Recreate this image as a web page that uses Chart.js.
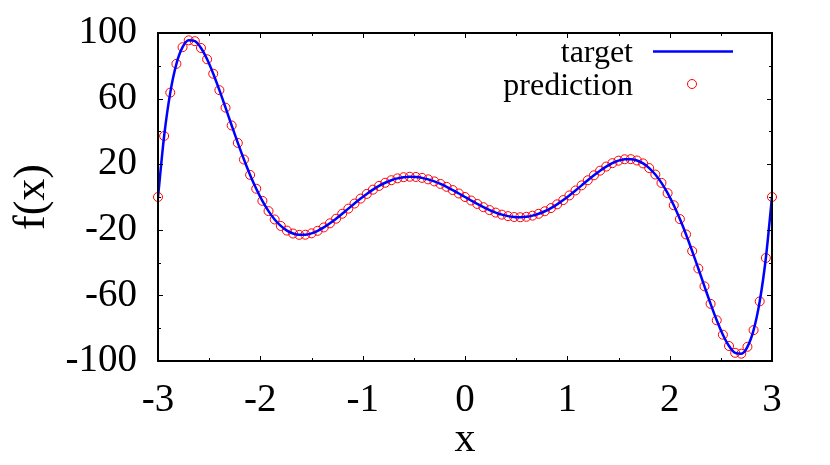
<!DOCTYPE html>
<html lang="en">
<head>
    <meta charset="UTF-8">
    <title>target vs prediction</title>
    <script src="https://cdn.jsdelivr.net/npm/chart.js"></script>
    <style>
        body {
            margin: 0;
            background: #fff;
        }
        #wrap {
            width: 830px;
            height: 465px;
        }
    </style>
</head>
<body>
<div id="wrap">
    <canvas id="myChart" width="830" height="465"></canvas>
</div>
<script>
    // sample positions (x) and values
    const xs = [-3, -2.94, -2.88, -2.82, -2.76, -2.7, -2.64, -2.58, -2.52, -2.46,
        -2.4, -2.34, -2.28, -2.22, -2.16, -2.1, -2.04, -1.98, -1.92, -1.86,
        -1.8, -1.74, -1.68, -1.62, -1.56, -1.5, -1.44, -1.38, -1.32, -1.26,
        -1.2, -1.14, -1.08, -1.02, -0.96, -0.9, -0.84, -0.78, -0.72, -0.66,
        -0.6, -0.54, -0.48, -0.42, -0.36, -0.3, -0.24, -0.18, -0.12, -0.06,
        0,
        0.06, 0.12, 0.18, 0.24, 0.3, 0.36, 0.42, 0.48, 0.54, 0.6,
        0.66, 0.72, 0.78, 0.84, 0.9, 0.96, 1.02, 1.08, 1.14, 1.2,
        1.26, 1.32, 1.38, 1.44, 1.5, 1.56, 1.62, 1.68, 1.74, 1.8,
        1.86, 1.92, 1.98, 2.04, 2.1, 2.16, 2.22, 2.28, 2.34, 2.4,
        2.46, 2.52, 2.58, 2.64, 2.7, 2.76, 2.82, 2.88, 2.94, 3];

    const target = [0, 37.19, 63.66, 81.18, 91.34, 95.54, 95.02, 90.85, 83.97, 75.17,
        65.14, 54.47, 43.61, 32.97, 22.84, 13.48, 5.04, -2.34, -8.59, -13.70,
        -17.65, -20.49, -22.27, -23.08, -23.00, -22.15, -20.63, -18.56, -16.06, -13.24,
        -10.22, -7.10, -3.99, -0.97, 1.87, 4.47, 6.76, 8.69, 10.24, 11.37,
        12.08, 12.35, 12.21, 11.67, 10.76, 9.51, 7.97, 6.20, 4.24, 2.15,
        0,
        -2.15, -4.24, -6.20, -7.97, -9.51, -10.76, -11.67, -12.21, -12.35, -12.08,
        -11.37, -10.24, -8.69, -6.76, -4.47, -1.87, 0.97, 3.99, 7.10, 10.22,
        13.24, 16.06, 18.56, 20.63, 22.15, 23.00, 23.08, 22.27, 20.49, 17.65,
        13.70, 8.59, 2.34, -5.04, -13.48, -22.84, -32.97, -43.61, -54.47, -65.14,
        -75.17, -83.97, -90.85, -95.02, -95.54, -91.34, -81.18, -63.66, -37.19, 0];

    // prediction sits on the target curve everywhere in the picture
    const prediction = target;

    const seriesNames = ['target', 'prediction'];

    const xTicks = [-3, -2, -1, 0, 1, 2, 3];
    const xMinor = [-2.5, -1.5, -0.5, 0.5, 1.5, 2.5];
    const yTicks = [-100, -60, -20, 20, 60, 100];
    const yMinor = [-80, -40, 0, 40, 80];

    const serif = "'Liberation Serif', 'DejaVu Serif', serif";

    // frame with inward ticks on all four sides, like gnuplot
    const framePlugin = {
        id: 'frame',
        afterDraw(chart) {
            const ctx = chart.ctx;
            const a = chart.chartArea;
            const sx = chart.scales.x;
            const sy = chart.scales.y;
            ctx.save();
            ctx.strokeStyle = '#000';
            ctx.lineWidth = 1;
            function vTick(v, len) {
                const px = Math.round(sx.getPixelForValue(v)) + 0.5;
                ctx.beginPath();
                ctx.moveTo(px, a.bottom); ctx.lineTo(px, a.bottom - len);
                ctx.moveTo(px, a.top); ctx.lineTo(px, a.top + len);
                ctx.stroke();
            }
            function hTick(v, len) {
                const py = Math.round(sy.getPixelForValue(v)) + 0.5;
                ctx.beginPath();
                ctx.moveTo(a.left, py); ctx.lineTo(a.left + len, py);
                ctx.moveTo(a.right, py); ctx.lineTo(a.right - len, py);
                ctx.stroke();
            }
            xTicks.forEach(v => vTick(v, 5));
            xMinor.forEach(v => vTick(v, 3));
            yTicks.forEach(v => hTick(v, 5));
            yMinor.forEach(v => hTick(v, 3));
            ctx.lineWidth = 2;
            ctx.strokeRect(a.left, a.top, a.right - a.left, a.bottom - a.top);

            // key, top right inside the frame
            ctx.font = '32px ' + serif;
            ctx.fillStyle = '#000';
            ctx.textAlign = 'right';
            ctx.textBaseline = 'alphabetic';
            ctx.fillText(seriesNames[0], 633, 62);
            ctx.fillText(seriesNames[1], 633, 95);
            ctx.strokeStyle = '#0000ff';
            ctx.lineWidth = 2.5;
            ctx.beginPath();
            ctx.moveTo(653, 51.5); ctx.lineTo(733, 51.5);
            ctx.stroke();
            ctx.strokeStyle = '#ff0000';
            ctx.lineWidth = 1;
            ctx.beginPath();
            ctx.arc(692, 84, 4.5, 0, Math.PI * 2);
            ctx.stroke();
            ctx.restore();
        }
    };

    const ctx = document.getElementById('myChart').getContext('2d');
    const chart = new Chart(ctx, {
        type: 'scatter',
        data: {
            datasets: [
                {
                    label: seriesNames[0],
                    type: 'line',
                    data: xs.map((x, i) => ({x: x, y: target[i]})),
                    borderColor: '#0000ff',
                    borderWidth: 2.5,
                    pointRadius: 0,
                    cubicInterpolationMode: 'monotone',
                    fill: false,
                    order: 0
                },
                {
                    label: seriesNames[1],
                    data: xs.map((x, i) => ({x: x, y: prediction[i]})),
                    borderColor: '#ff0000',
                    backgroundColor: 'rgba(0,0,0,0)',
                    borderWidth: 1,
                    pointRadius: 4.5,
                    pointStyle: 'circle',
                    clip: false,
                    order: 1
                }
            ]
        },
        options: {
            responsive: false,
            animation: false,
            layout: {
                padding: {left: 0, right: 58, top: 33, bottom: 0}
            },
            plugins: {
                legend: {display: false},
                tooltip: {enabled: false}
            },
            scales: {
                x: {
                    type: 'linear',
                    min: -3,
                    max: 3,
                    grid: {display: false},
                    border: {display: false},
                    afterBuildTicks: s => { s.ticks = xTicks.map(v => ({value: v})); },
                    afterFit: s => { s.height = 104; s.paddingLeft = 0; s.paddingRight = 0; },
                    ticks: {
                        color: '#000',
                        padding: 8,
                        font: {family: serif, size: 39},
                        maxRotation: 0
                    },
                    title: {
                        display: true,
                        text: 'x',
                        color: '#000',
                        font: {family: serif, size: 42},
                        padding: {top: 20, bottom: 0}
                    }
                },
                y: {
                    min: -100,
                    max: 100,
                    grid: {display: false},
                    border: {display: false},
                    afterBuildTicks: s => { s.ticks = yTicks.map(v => ({value: v})); },
                    afterFit: s => { s.width = 158; s.paddingTop = 0; s.paddingBottom = 0; },
                    ticks: {
                        color: '#000',
                        padding: 13,
                        font: {family: serif, size: 39}
                    },
                    title: {
                        display: true,
                        text: 'f(x)',
                        color: '#000',
                        font: {family: serif, size: 44},
                        padding: {top: 6, bottom: 0}
                    }
                }
            }
        },
        plugins: [framePlugin]
    });
</script>
</body>
</html>
